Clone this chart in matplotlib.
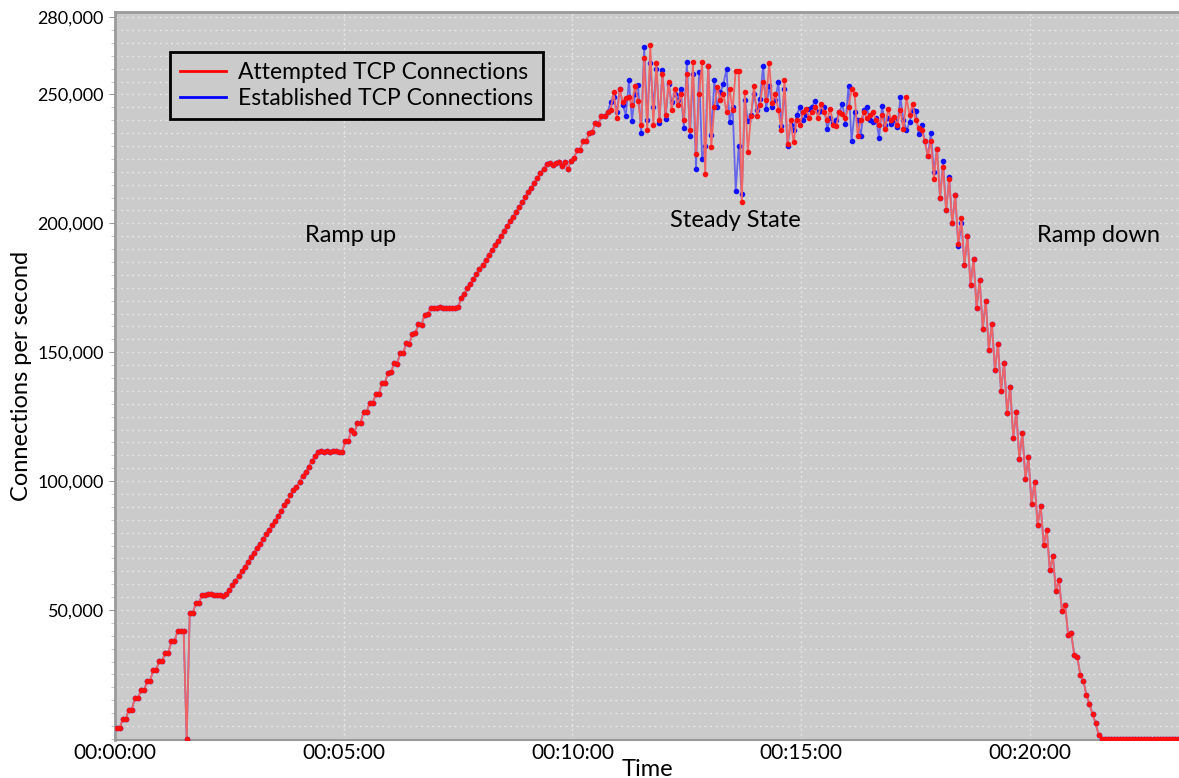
import numpy as np
import matplotlib
matplotlib.use("Agg")
import matplotlib.pyplot as plt
from matplotlib.lines import Line2D
from matplotlib.ticker import MultipleLocator

# ---------------- data (connections per second, in thousands) ----------------
SAMPLE_SECONDS = 4          # one sample every 4 s
FIRST_SAMPLE = 2            # first sample at t = 2 s

attempted_k = [
    # ramp up, stair steps (i = 0..36)
    4.1, 4.1, 7.6, 7.6, 11.3, 11.3, 15.8, 15.8, 18.8, 18.8,
    22.3, 22.3, 26.8, 26.8, 30.3, 30.3, 33.5, 33.5, 37.8, 37.8,
    41.7, 41.7, 41.7, 0.0, 48.8, 48.8, 52.7, 52.7, 55.9, 55.9,
    56.1, 56.2, 55.7, 56.0, 55.8, 55.6, 56.3,
    # linear rise (i = 37..66)
    57.8, 59.6, 61.3, 63.2, 65.0, 66.7, 68.6, 70.4, 72.1, 73.9,
    75.7, 77.4, 79.3, 81.0, 82.8, 84.6, 86.3, 88.4, 90.8, 92.4,
    94.6, 96.4, 97.6, 99.8, 102.1, 103.6, 105.6, 107.8, 109.6, 111.3,
    # plateau (i = 67..74)
    111.5, 111.4, 111.6, 111.3, 111.5, 111.6, 111.2, 111.4,
    # stairs (i = 75..102)
    115.5, 115.5, 120.0, 118.8, 122.6, 122.6, 126.8, 126.8, 130.4, 130.4,
    133.6, 133.6, 138.2, 138.2, 142.0, 142.2, 145.8, 145.6, 149.6, 149.8,
    153.4, 153.2, 157.2, 157.4, 160.8, 160.6, 164.5, 164.7,
    # plateau (i = 103..112)
    167.0, 167.3, 167.1, 167.4, 167.0, 167.2, 167.3, 167.1, 167.2, 167.4,
    # rise (i = 113..141)
    171.0, 172.6, 174.8, 176.5, 178.4, 180.2, 182.1, 183.9, 185.8, 187.7,
    189.6, 191.4, 193.3, 195.1, 197.0, 198.9, 200.7, 202.6, 204.5, 206.3,
    208.2, 210.1, 212.0, 213.8, 215.7, 217.5, 219.4, 221.2, 222.9,
    # plateau then rise into steady state (i = 142..161)
    223.2, 222.6, 223.4, 223.6, 222.4, 223.6, 221.0, 224.3, 225.2, 228.6,
    228.6, 232.0, 232.0, 235.0, 235.5, 238.9, 238.5, 241.8, 241.5, 243.0,
    # steady state (i = 162..265)
    244.0, 250.8, 241.0, 252.0, 247.0, 248.6, 249.0, 246.0, 253.4, 247.5,
    238.0, 264.0, 236.0, 269.2, 238.0, 262.0, 240.0, 258.0, 242.0, 255.0,
    244.0, 252.0, 246.0, 250.0, 240.0, 258.0, 236.0, 262.5, 226.9, 250.0,
    262.5, 219.1, 261.2, 229.5, 245.0, 252.8, 248.0, 250.0, 243.0, 252.0,
    244.0, 259.2, 258.9, 208.1, 250.8, 227.5, 241.5, 253.4, 241.8, 246.0,
    255.0, 248.0, 262.1, 246.7, 250.0, 244.0, 236.0, 255.4, 230.8, 240.0,
    231.4, 240.0, 238.0, 243.0, 244.4, 241.0, 243.0, 245.0, 241.0, 246.3,
    243.0, 240.0, 244.4, 238.0, 237.9, 243.0, 242.4, 241.0, 245.0, 252.1,
    250.2, 234.0, 240.0, 243.0, 241.0, 242.0, 243.0, 240.0, 238.0, 242.0,
    236.6, 244.4, 240.0, 241.1, 238.0, 244.0, 236.6, 248.9, 242.0, 246.3,
    240.0, 237.0, 236.0, 232.0,
    # ramp down (i = 266..322)
    226.0, 232.0, 217.0, 229.0, 210.0, 222.0, 205.0, 217.0, 200.0, 211.0,
    192.0, 202.0, 184.0, 195.0, 176.0, 186.0, 167.0, 178.0, 159.0, 170.0,
    151.0, 161.0, 143.0, 153.0, 135.0, 146.0, 126.5, 136.6, 116.8, 126.9,
    108.7, 118.8, 100.9, 109.3, 91.2, 99.6, 82.8, 90.5, 75.1, 81.2,
    65.4, 71.1, 57.2, 61.8, 49.5, 52.1, 40.4, 41.1, 32.6, 31.7,
    24.9, 22.3, 17.1, 13.5, 9.7, 6.1, 1.6,
    # idle (i = 323..348)
    0, 0, 0, 0, 0, 0, 0, 0, 0, 0, 0, 0, 0, 0, 0, 0, 0, 0, 0, 0,
    0, 0, 0, 0, 0, 0,
]

# established connections where they differ from attempted (i = 162..277)
ESTABLISHED_FROM = 162
established_steady_k = [
    247.0, 249.0, 243.0, 252.0, 246.0, 241.8, 255.4, 239.8, 250.0, 253.6,
    235.0, 268.3, 240.0, 262.0, 245.0, 260.0, 239.0, 259.6, 240.5, 254.0,
    247.0, 250.0, 248.0, 252.0, 237.0, 262.5, 233.9, 258.0, 221.0, 258.6,
    225.0, 230.0, 261.2, 234.3, 255.4, 245.0, 250.8, 254.1, 259.9, 239.2,
    245.0, 212.6, 230.0, 211.3, 248.0, 239.8, 242.0, 250.0, 244.0, 248.2,
    261.2, 244.4, 253.4, 245.0, 248.0, 254.7, 237.9, 252.0, 230.1, 238.0,
    236.0, 242.0, 245.0, 240.0, 242.0, 244.2, 245.0, 247.5, 243.0, 243.7,
    245.0, 236.6, 241.0, 239.0, 240.0, 243.0, 246.3, 238.5, 253.4, 232.0,
    243.0, 240.0, 234.0, 244.0, 245.0, 240.0, 239.2, 241.0, 233.0, 245.6,
    238.0, 241.0, 238.5, 240.0, 237.2, 248.9, 240.0, 236.0, 239.2, 244.0,
    243.7, 234.7, 238.0, 232.0, 226.0, 235.0, 220.0, 229.0, 210.0, 224.0,
    205.0, 218.0, 200.0, 211.0, 191.0, 200.0,
]

x_tick_seconds = [0, 300, 600, 900, 1200]
x_tick_labels = ["00:00:00", "00:05:00", "00:10:00", "00:15:00", "00:20:00"]
y_tick_values = [50000, 100000, 150000, 200000, 250000, 280000]
y_tick_labels = ["50,000", "100,000", "150,000", "200,000", "250,000", "280,000"]
series_names = ["Attempted TCP Connections", "Established TCP Connections"]
phase_labels = ["Ramp up", "Steady State", "Ramp down"]

# ---------------- build series ----------------
attempted = np.array(attempted_k) * 1000.0
est_end = ESTABLISHED_FROM + len(established_steady_k)
established = np.concatenate([
    attempted[:ESTABLISHED_FROM],
    np.array(established_steady_k) * 1000.0,
    attempted[est_end:],
])
t = FIRST_SAMPLE + SAMPLE_SECONDS * np.arange(len(attempted))

# ---------------- figure ----------------
plt.rcParams['font.family'] = ['Lato', 'DejaVu Sans']
fig = plt.figure(figsize=(11.79, 7.78), dpi=100)
ax = fig.add_axes([115 / 1179, 1 - 740 / 778, (1179 - 115) / 1179, (740 - 12) / 778])
ax.set_facecolor('#cbcbcb')

# grid
for yv in np.arange(5000, 282000, 5000):
    ax.axhline(yv, color='#e4e4e4', lw=1.0, ls=(0, (1.5, 2.5)), zorder=1)
for xv in x_tick_seconds[1:]:
    ax.axvline(xv, color='#e4e4e4', lw=1.0, ls=(0, (1.5, 2.0)), zorder=1)

# series: established first, attempted on top
ax.plot(t, established, color='#5a5af0', lw=1.3, alpha=0.9, zorder=3)
ax.plot(t, established, ls='none', marker='o', ms=3.0, color='#1010ff', zorder=3)
ax.plot(t, attempted, color='#f06464', lw=1.3, zorder=4)
ax.plot(t, attempted, ls='none', marker='o', ms=3.0, color='#ff1010', zorder=4)

ax.set_xlim(0, (1179 - 115) / 0.7625)
ax.set_ylim(-430, 281960)

ax.set_xticks(x_tick_seconds)
ax.set_xticklabels(x_tick_labels, fontsize=15)
ax.set_yticks(y_tick_values)
ax.set_yticklabels(y_tick_labels, fontsize=13)
ax.yaxis.set_minor_locator(MultipleLocator(5000))
ax.tick_params(axis='y', which='major', length=4, color='#999999', pad=4)
ax.tick_params(axis='y', which='minor', length=3, color='#bbbbbb')
ax.tick_params(axis='x', which='major', length=0, pad=2)

for side in ['left', 'top']:
    ax.spines[side].set_color('#9a9a9a')
    ax.spines[side].set_linewidth(2.0)
ax.spines['bottom'].set_color('#9a9a9a')
ax.spines['bottom'].set_linewidth(1.5)
ax.spines['right'].set_visible(False)

ax.set_xlabel("Time", fontsize=17, labelpad=-3)
ax.set_ylabel("Connections per second", fontsize=17, labelpad=4)

# phase annotations
ax.text(0.221, 0.693, phase_labels[0], transform=ax.transAxes, fontsize=17, ha='center', va='center')
ax.text(0.583, 0.713, phase_labels[1], transform=ax.transAxes, fontsize=17, ha='center', va='center')
ax.text(0.924, 0.693, phase_labels[2], transform=ax.transAxes, fontsize=17, ha='center', va='center')

# legend
handles = [Line2D([], [], color='#ff0000', lw=2), Line2D([], [], color='#0000ff', lw=2)]
leg = ax.legend(handles, series_names, loc='upper left',
                bbox_to_anchor=((170 - 115) / 1064, 1 - (52 - 12) / 728),
                fontsize=16.5, frameon=True, fancybox=False, facecolor='#cbcbcb',
                edgecolor='black', framealpha=1, handlelength=2.0, handletextpad=0.5,
                borderpad=0.45, labelspacing=0.2, borderaxespad=0)
leg.get_frame().set_linewidth(2)

fig.savefig("out.png", dpi=100)
